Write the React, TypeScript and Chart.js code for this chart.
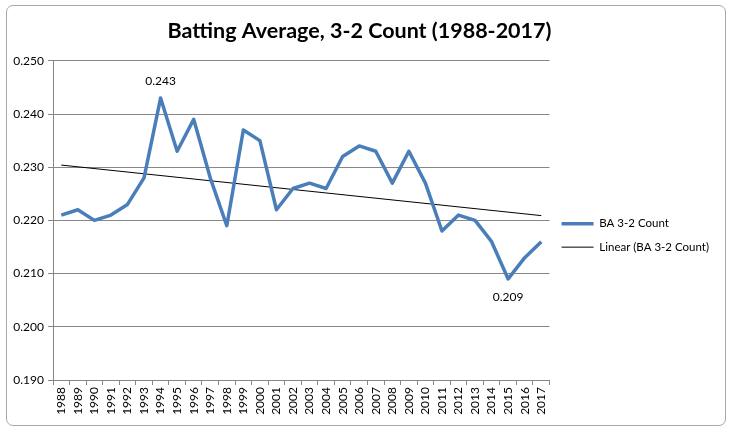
import { useEffect, useRef } from 'react';
import { Chart, registerables } from 'chart.js';

Chart.register(...registerables);

const years = [
  '1988', '1989', '1990', '1991', '1992', '1993', '1994', '1995', '1996', '1997',
  '1998', '1999', '2000', '2001', '2002', '2003', '2004', '2005', '2006', '2007',
  '2008', '2009', '2010', '2011', '2012', '2013', '2014', '2015', '2016', '2017',
];

const battingAvg = [
  0.221, 0.222, 0.22, 0.221, 0.223, 0.228, 0.243, 0.233, 0.239, 0.228,
  0.219, 0.237, 0.235, 0.222, 0.226, 0.227, 0.226, 0.232, 0.234, 0.233,
  0.227, 0.233, 0.227, 0.218, 0.221, 0.22, 0.216, 0.209, 0.213, 0.216,
];

// Excel's linear trendline, end points
const trendYears = ['1988', '2017'];
const trendValues = [0.2304, 0.2209];

const yTickValues = [0.19, 0.2, 0.21, 0.22, 0.23, 0.24, 0.25];

// points that carry a value label
const labeledYears = ['1994', '2015'];
const labelSides = ['above', 'below'];

const FONT = 'Lato, "Open Sans", sans-serif';
const GRID = '#878787';
const BLUE = '#4a7ebb';

const pointLabels = {
  id: 'pointLabels',
  afterDatasetsDraw(chart: Chart) {
    const meta = chart.getDatasetMeta(0);
    const { ctx } = chart;
    ctx.save();
    ctx.font = `12px ${FONT}`;
    ctx.fillStyle = '#000';
    ctx.textAlign = 'center';
    ctx.textBaseline = 'middle';
    labeledYears.forEach((yr, k) => {
      const i = years.indexOf(yr);
      const pt = meta.data[i];
      if (!pt) return;
      const dy = labelSides[k] === 'above' ? -17 : 18;
      ctx.fillText(battingAvg[i].toFixed(3), pt.x, pt.y + dy);
    });
    ctx.restore();
  },
};

export default function App() {
  const canvasRef = useRef<HTMLCanvasElement | null>(null);
  const chartRef = useRef<Chart | null>(null);

  useEffect(() => {
    if (!canvasRef.current) return;
    if (chartRef.current) chartRef.current.destroy();

    chartRef.current = new Chart(canvasRef.current, {
      type: 'line',
      data: {
        labels: years,
        datasets: [
          {
            label: 'BA 3-2 Count',
            data: battingAvg,
            borderColor: BLUE,
            backgroundColor: BLUE,
            borderWidth: 3.5,
            borderJoinStyle: 'round',
            pointRadius: 0,
            pointStyle: 'line',
            tension: 0,
          },
          {
            label: 'Linear (BA 3-2 Count)',
            data: trendYears.map((x, i) => ({ x, y: trendValues[i] })),
            borderColor: '#000',
            backgroundColor: '#000',
            borderWidth: 1,
            pointRadius: 0,
            pointStyle: 'line',
            tension: 0,
          },
        ],
      },
      options: {
        animation: false,
        responsive: true,
        maintainAspectRatio: false,
        layout: { padding: { top: 0, right: 14, bottom: 0, left: 0 } },
        plugins: {
          title: {
            display: true,
            text: 'Batting Average, 3-2 Count (1988-2017)',
            color: '#000',
            font: { family: FONT, size: 21.5, weight: 'bold' },
            padding: { top: 18, bottom: 17 },
          },
          legend: {
            display: true,
            position: 'right',
            fullSize: false,
            align: 'center',
            title: {
              display: true,
              text: ' ',
              font: { family: FONT, size: 10 },
              padding: { top: 18, bottom: 0 },
            },
            labels: {
              usePointStyle: true,
              pointStyleWidth: 32,
              padding: 12,
              color: '#000',
              font: { family: FONT, size: 11.5 },
            },
          },
          tooltip: { enabled: false },
        },
        scales: {
          x: {
            type: 'category',
            offset: true,
            grid: {
              display: true,
              drawOnChartArea: false,
              drawTicks: true,
              offset: true,
              tickLength: 5,
              color: GRID,
            },
            border: { display: true, color: GRID },
            ticks: {
              autoSkip: false,
              minRotation: 90,
              maxRotation: 90,
              padding: 2,
              color: '#000',
              font: { family: FONT, size: 12 },
            },
            afterFit(scale) {
              scale.height = 54;
            },
          },
          y: {
            min: 0.19,
            max: 0.25,
            grid: { color: GRID, tickLength: 5 },
            border: { display: true, color: GRID },
            ticks: {
              padding: 4,
              color: '#000',
              font: { family: FONT, size: 12 },
              callback: (v) => Number(v).toFixed(3),
            },
            afterBuildTicks(scale) {
              scale.ticks = yTickValues.map((value) => ({ value }));
            },
            afterFit(scale) {
              scale.width = 53;
            },
          },
        },
      },
      plugins: [pointLabels],
    });

    return () => {
      if (chartRef.current) {
        chartRef.current.destroy();
        chartRef.current = null;
      }
    };
  }, []);

  return (
    <div style={{ position: 'fixed', left: 0, top: 0, width: 733, height: 434, background: '#fff' }}>
      <div
        style={{
          position: 'absolute',
          left: 6,
          top: 5,
          width: 718,
          height: 419,
          border: '1px solid #a8a8a8',
          borderRadius: 7,
          background: '#fff',
        }}
      />
      <div style={{ position: 'absolute', left: 0, top: 0, width: 733, height: 434 }}>
        <canvas ref={canvasRef} />
      </div>
    </div>
  );
}
